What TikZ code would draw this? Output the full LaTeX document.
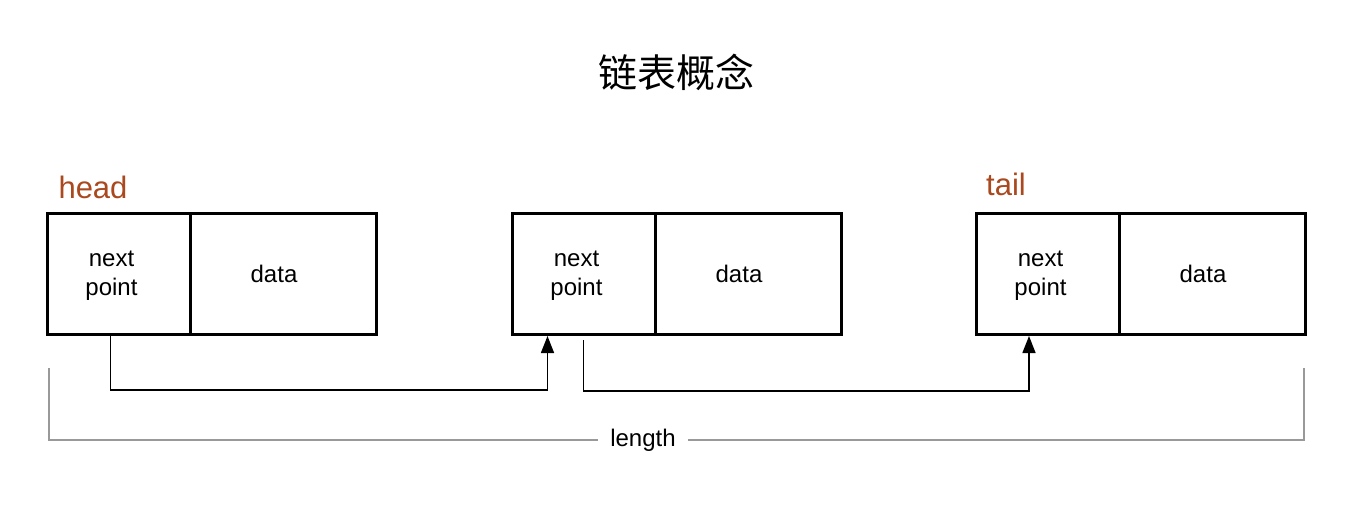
\documentclass[tikz,border=0pt]{standalone}
\usepackage{fontspec}
\setmainfont{Liberation Sans}
\newfontfamily\cjk{Noto Sans CJK SC}
\usepackage{tikz}
\usepackage{xcolor}
\usetikzlibrary{arrows.meta,positioning,calc}
\definecolor{tagbrown}{RGB}{170,72,30}
\tikzstyle{cell}=[draw,line width=1.5pt,outer sep=0pt,inner sep=0pt,
  minimum height=60.5pt]
\tikzstyle{ptrcell}=[cell,minimum width=71.5pt]
\tikzstyle{datacell}=[cell,minimum width=93pt]
\tikzstyle{celltext}=[align=center,inner sep=0pt,font=\fontsize{12}{14.5}\selectfont]
\tikzstyle{link}=[-{Triangle[length=8.5pt,width=6.5pt]},line width=0.75pt]
\tikzstyle{tag}=[text=tagbrown,font=\fontsize{15.5}{18}\selectfont]
\newcommand{\listnode}[2]{% #1 = name, #2 = left edge of the box
  \node[ptrcell] (#1p) at (#2+71.5,273.5) {};
  \node[datacell,right=0pt of #1p] (#1d) {};
  \node[celltext] (#1pt) at ($(#1p.center)+(-7,2)$) {next\\point};
  \node[celltext] (#1dt) at ($(#1d.center)+(-9,0)$) {data};}

\begin{document}
\begin{tikzpicture}[x=0.5pt,y=-0.5pt]
  \useasboundingbox (0,0) rectangle (1356,516);
  \node (title) at (676,72) {\cjk\fontsize{19.5}{22}\selectfont 链表概念};

  \listnode{a}{47}
  \listnode{b}{512}
  \listnode{c}{976}

  \node[tag] (head) at (93,187) {head};
  \node[tag] (tail) at (1006,184) {tail};

  \draw[link] ($(ap.south)+(-8,0)$) -- ++(0,56) -| ($(bp.south)+(-36,2)$);
  \draw[link] ($(bp.south)+(0,6)$) -- ++(0,51) -| ($(cp.south)+(-18.5,2)$);

  % overall length
  \coordinate (lenL) at (49,368);
  \coordinate (lenR) at (1304,368);
  \node[inner xsep=6pt,font=\fontsize{12}{14}\selectfont] (len) at (643,440) {length};
  \draw[gray!80,line width=0.75pt] (lenL) |- (len.west);
  \draw[gray!80,line width=0.75pt] (len.east) -| (lenR);
\end{tikzpicture}
\end{document}
